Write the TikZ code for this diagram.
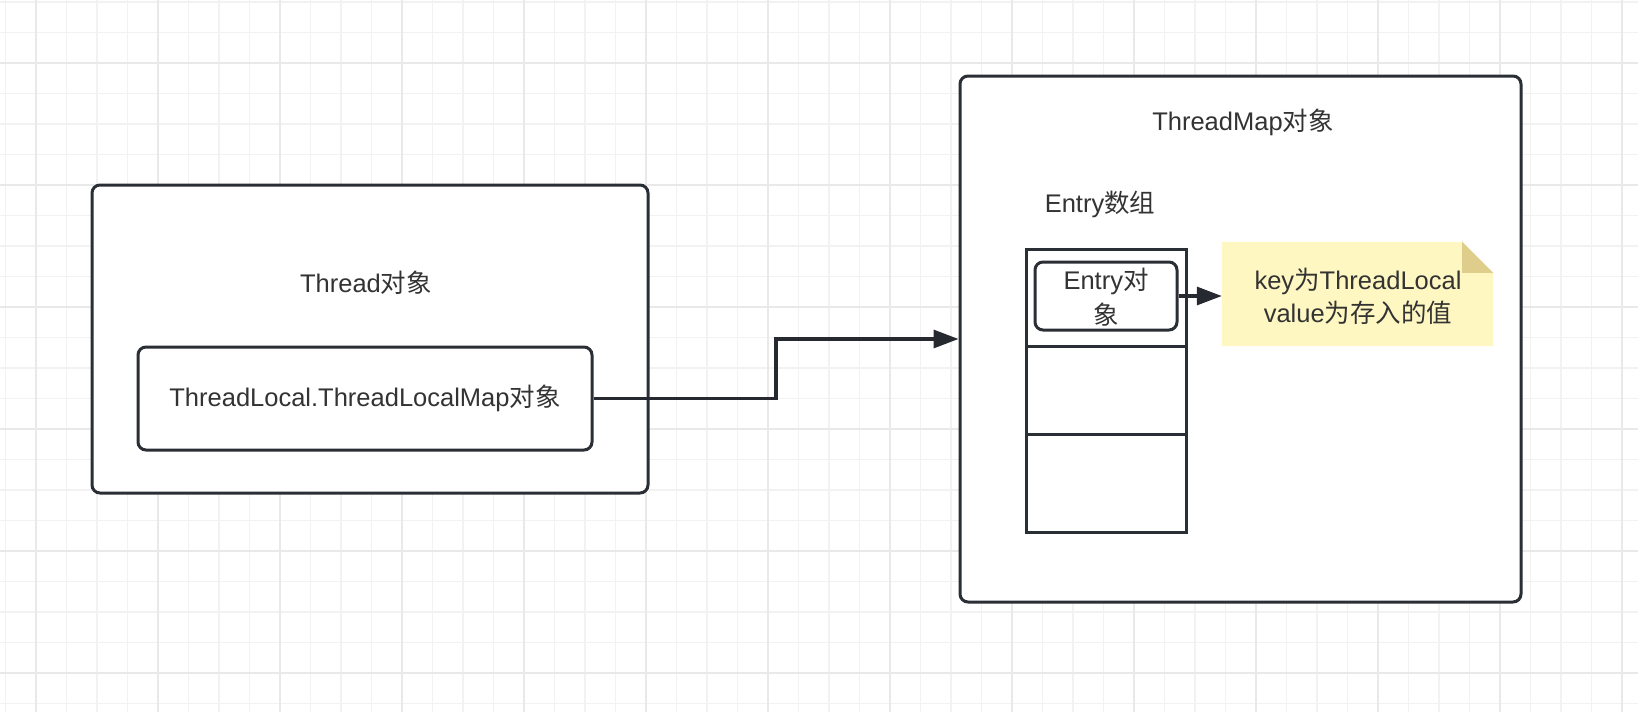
\documentclass[tikz,border=0pt]{standalone}
\usepackage{fontspec}
\setmainfont{Liberation Sans}
\newfontfamily\cjk{Noto Sans CJK SC}
\usetikzlibrary{arrows.meta}
\definecolor{minorgrid}{HTML}{F2F2F2}
\definecolor{majorgrid}{HTML}{E9E9E9}
\definecolor{boxline}{HTML}{2A2E35}
\definecolor{txt}{HTML}{333333}
\definecolor{notefill}{HTML}{FFF7C2}
\definecolor{foldc}{HTML}{DFCE8B}
\newcommand{\zh}[1]{{\cjk #1}}
\tikzset{
  box/.style={draw=boxline, line width=3pt, rounded corners=8pt, fill=white, inner sep=0pt},
  cell/.style={draw=boxline, line width=3pt, fill=white, inner sep=0pt},
  lbl/.style={text=txt, font=\fontsize{25.5}{33}\selectfont, inner sep=0pt, align=center},
  conn/.style={draw=boxline!90!black, line width=3.2pt, -{Triangle[length=25pt,width=18pt]}},
}
\begin{document}
\begin{tikzpicture}[x=1pt,y=-1pt]
\useasboundingbox (0,0) rectangle (1638,712);
\fill[white] (0,0) rectangle (1638,712);
% grid
\foreach \i in {0,...,54} {\draw[minorgrid, line width=1.4pt] ({5.5+30.5*\i},0) -- ++(0,712);}
\foreach \i in {0,...,24} {\draw[minorgrid, line width=1.4pt] (0,{2+30.5*\i}) -- ++(1638,0);}
\foreach \i in {0,...,13} {\draw[majorgrid, line width=1.8pt] ({36+122*\i},0) -- ++(0,712);}
\foreach \i in {0,...,5} {\draw[majorgrid, line width=1.8pt] (0,{63+122*\i}) -- ++(1638,0);}

% Thread box
\node[box, minimum width=556pt, minimum height=308pt] (thread) at (370,339) {};
\node[lbl] (threadlbl) at (366,283) {Thread\zh{对象}};
\node[box, minimum width=454pt, minimum height=103pt] (tlm) at (365,398.5) {};
\node[lbl] (tlmlbl) at (365,398) {ThreadLocal.ThreadLocalMap\zh{对象}};

% ThreadMap box
\node[box, minimum width=561pt, minimum height=526pt] (tmap) at (1240.5,339) {};
\node[lbl] (tmaplbl) at (1243,122) {ThreadMap\zh{对象}};
\node[lbl] (arrlbl) at (1100,204) {Entry\zh{数组}};

% Entry array cells
\node[cell, minimum width=160pt, minimum height=97pt] (c1) at (1106,297.5) {};
\node[cell, minimum width=160pt, minimum height=88pt] (c2) at (1106,390) {};
\node[cell, minimum width=160pt, minimum height=98pt] (c3) at (1106,483) {};
\node[box, minimum width=142pt, minimum height=68pt] (eobj) at (1106,296) {};
\node[lbl, font=\fontsize{25.5}{35}\selectfont] (eobjlbl) at (1106,297) {Entry\zh{对}\\\zh{象}};

% note
\node[minimum width=271pt, minimum height=104pt, inner sep=0pt] (note) at (1357.5,294) {};
\fill[notefill] (note.north west) -- ([xshift=-31pt]note.north east) -- ([yshift=-31pt]note.north east) -- (note.south east) -- (note.south west) -- cycle;
\fill[foldc] ([xshift=-31pt]note.north east) -- ([yshift=-31pt]note.north east) -- ([xshift=-31pt,yshift=-31pt]note.north east) -- cycle;
\node[lbl] (notelbl) at (1358,296) {key\zh{为}ThreadLocal\\value\zh{为存入的值}};

% connectors
\coordinate (bend) at (776,0);
\draw[conn] (tlm.east) -- (tlm.east -| bend) -- (bend |- tmap.west) -- (tmap.west);
\draw[conn] (eobj.east) -- (eobj.east -| note.west);
\end{tikzpicture}
\end{document}
